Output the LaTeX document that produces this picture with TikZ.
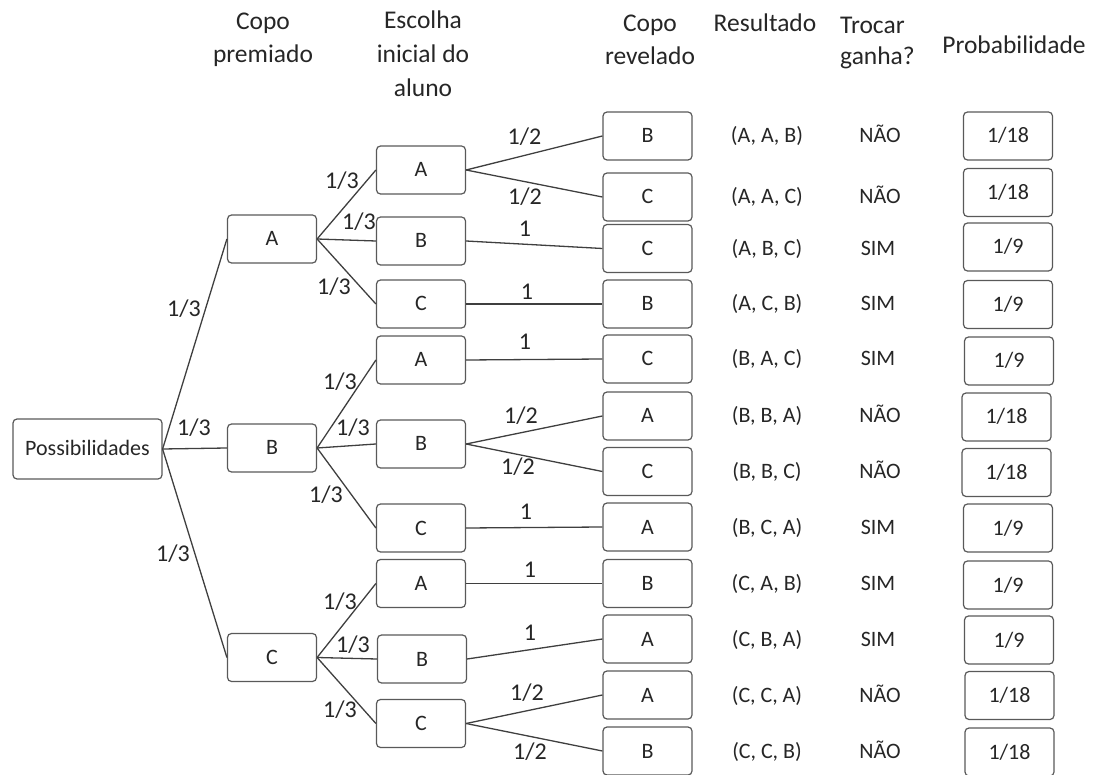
\documentclass[tikz,border=0pt]{standalone}
\usepackage{fontspec}
\setmainfont{Carlito}
\definecolor{txt}{HTML}{262626}
\definecolor{boxgray}{HTML}{595959}
\definecolor{linegray}{HTML}{3F3F3F}
\begin{document}
\begin{tikzpicture}[x=1pt,y=-1pt,
  box/.style={draw=boxgray, line width=1.2pt, rounded corners=4pt,
    minimum width=89pt, minimum height=48pt, inner sep=0pt,
    text height=14pt, text depth=0pt,
    font=\fontsize{22}{26}\selectfont, text=txt},
  wide/.style={box, minimum width=149pt, minimum height=60pt},
  lbl/.style={inner sep=0pt, text height=15.5pt, text depth=0pt,
    font=\fontsize{24}{28}\selectfont, text=txt},
  cell/.style={inner sep=0pt, text height=14pt, text depth=0pt,
    font=\fontsize{22}{26}\selectfont, text=txt},
  head/.style={inner sep=0pt, anchor=base, font=\fontsize{25.5}{30}\selectfont, text=txt},
  edge/.style={draw=linegray, line width=1.3pt}]
\useasboundingbox (0,0) rectangle (1101,775);

% column headings
\node[head] (h1a) at (263,30) {Copo};
\node[head] (h1b) at (263,63) {premiado};
\node[head] (h2a) at (423,29) {Escolha};
\node[head] (h2b) at (423,63) {inicial do};
\node[head] (h2c) at (423,97) {aluno};
\node[head] (h3a) at (650,32) {Copo};
\node[head] (h3b) at (650,65) {revelado};
\node[head] (h4) at (765,32) {Resultado};
\node[head, anchor=base west] (h5a) at (840,34) {Trocar};
\node[head, anchor=base west] (h5b) at (840,65) {ganha?};
\node[head] (h6) at (1014,54) {Probabilidade};

% root
\node[wide] (P) at (87.5,449) {Possibilidades};

% prize cup
\node[box] (a1) at (272,239) {A};
\node[box] (b1) at (272,448) {B};
\node[box] (c1) at (272,657.5) {C};

% first choice
\node[box] (aa) at (421,170) {A};
\node[box] (ab) at (421,241) {B};
\node[box] (ac) at (421,304) {C};
\node[box] (ba) at (421,360) {A};
\node[box] (bb) at (421,444) {B};
\node[box] (bc) at (421,528) {C};
\node[box] (ca) at (421,583.5) {A};
\node[box] (cb) at (422,659) {B};
\node[box] (cc) at (421,723.5) {C};

% revealed cup
\node[box] (r1) at (647.5,136) {B};
\node[box] (r2) at (647.5,197) {C};
\node[box] (r3) at (647.5,248.5) {C};
\node[box] (r4) at (647.5,304) {B};
\node[box] (r5) at (647.5,359) {C};
\node[box] (r6) at (647.5,416) {A};
\node[box] (r7) at (647.5,471.5) {C};
\node[box] (r8) at (647.5,527) {A};
\node[box] (r9) at (647.5,583.5) {B};
\node[box] (r10) at (647.5,639) {A};
\node[box] (r11) at (647.5,695) {A};
\node[box] (r12) at (647.5,751) {B};

% outcomes
\node[cell] (o1) at (767,136) {(A, A, B)};
\node[cell] (o2) at (767,197) {(A, A, C)};
\node[cell] (o3) at (767,248.5) {(A, B, C)};
\node[cell] (o4) at (767,304) {(A, C, B)};
\node[cell] (o5) at (767,359) {(B, A, C)};
\node[cell] (o6) at (767,416) {(B, B, A)};
\node[cell] (o7) at (767,471.5) {(B, B, C)};
\node[cell] (o8) at (767,527) {(B, C, A)};
\node[cell] (o9) at (767,583.5) {(C, A, B)};
\node[cell] (o10) at (767,639) {(C, B, A)};
\node[cell] (o11) at (767,695) {(C, C, A)};
\node[cell] (o12) at (767,751) {(C, C, B)};

% switching wins?
\node[cell] (w1) at (880,136) {NÃO};
\node[cell] (w2) at (880,197) {NÃO};
\node[cell] (w3) at (878,248.5) {SIM};
\node[cell] (w4) at (878,304) {SIM};
\node[cell] (w5) at (878,359) {SIM};
\node[cell] (w6) at (880,416) {NÃO};
\node[cell] (w7) at (880,471.5) {NÃO};
\node[cell] (w8) at (878,527) {SIM};
\node[cell] (w9) at (878,583.5) {SIM};
\node[cell] (w10) at (878,639) {SIM};
\node[cell] (w11) at (880,695) {NÃO};
\node[cell] (w12) at (880,751) {NÃO};

% probabilities
\node[box] (p1) at (1008,136) {1/18};
\node[box] (p2) at (1008,192.5) {1/18};
\node[box] (p3) at (1008,247) {1/9};
\node[box] (p4) at (1008,304.5) {1/9};
\node[box] (p5) at (1009,361) {1/9};
\node[box] (p6) at (1006.5,417) {1/18};
\node[box] (p7) at (1006.5,472.5) {1/18};
\node[box] (p8) at (1008,528) {1/9};
\node[box] (p9) at (1008,585) {1/9};
\node[box] (p10) at (1009,640) {1/9};
\node[box] (p11) at (1009.5,695.5) {1/18};
\node[box] (p12) at (1009.5,752) {1/18};

% branches
\draw[edge] (P.east) -- (a1.west);
\draw[edge] (P.east) -- (b1.west);
\draw[edge] (P.east) -- (c1.west);
\foreach \s/\t in {a1/aa, a1/ab, a1/ac, b1/ba, b1/bb, b1/bc, c1/ca, c1/cb, c1/cc,
                   aa/r1, aa/r2, ab/r3, ac/r4, ba/r5, bb/r6, bb/r7, bc/r8,
                   ca/r9, cb/r10, cc/r11, cc/r12}
  \draw[edge] (\s.east) -- (\t.west);

% branch probabilities
\node[lbl] (q1) at (184,309) {1/3};
\node[lbl] (q2) at (194,428) {1/3};
\node[lbl] (q3) at (173,554) {1/3};
\node[lbl] (qaa) at (342,181) {1/3};
\node[lbl] (qab) at (359,222) {1/3};
\node[lbl] (qac) at (334,287) {1/3};
\node[lbl] (qba) at (340,382) {1/3};
\node[lbl] (qbb) at (353,428) {1/3};
\node[lbl] (qbc) at (326,495) {1/3};
\node[lbl] (qca) at (340,602) {1/3};
\node[lbl] (qcb) at (353,645) {1/3};
\node[lbl] (qcc) at (340,710) {1/3};
\node[lbl] (s1) at (524.5,137) {1/2};
\node[lbl] (s2) at (525,197) {1/2};
\node[lbl] (s3) at (525,229) {1};
\node[lbl] (s4) at (527,292) {1};
\node[lbl] (s5) at (525,342) {1};
\node[lbl] (s6) at (521,416) {1/2};
\node[lbl] (s7) at (518,467) {1/2};
\node[lbl] (s8) at (526,512) {1};
\node[lbl] (s9) at (530,570) {1};
\node[lbl] (s10) at (530,633) {1};
\node[lbl] (s11) at (527,693) {1/2};
\node[lbl] (s12) at (530,752) {1/2};
\end{tikzpicture}
\end{document}
